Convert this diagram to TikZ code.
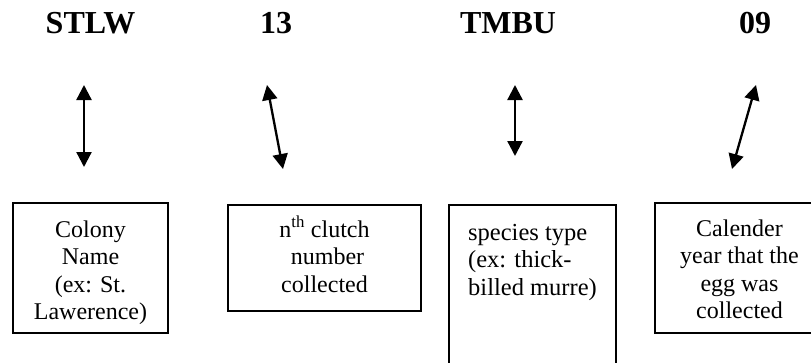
\documentclass[tikz,border=0pt]{standalone}
\usepackage{fontspec}
\setmainfont{Liberation Serif}
\usetikzlibrary{arrows.meta}
\tikzset{
  title/.style={font=\fontsize{32}{36}\selectfont\bfseries, anchor=base, inner sep=0pt},
  box/.style={draw, line width=2pt, inner sep=0pt},
  txt/.style={font=\fontsize{24}{27.5}\selectfont, align=center, inner sep=0pt, anchor=base},
  lefttxt/.style={font=\fontsize{24.5}{27.2}\selectfont, align=left, inner sep=0pt, anchor=base west},
  dbl/.style={line width=2.3pt, {Triangle[width=15pt,length=15pt]}-{Triangle[width=15pt,length=15pt]}}
}
\begin{document}
\begin{tikzpicture}[x=1pt,y=-1pt]
\clip (0,0) rectangle (811,362);
\fill[white] (0,0) rectangle (811,362);
% titles
\node[title] (h1) at (90.5,33) {STLW};
\node[title] (h2) at (276,33) {13};
\node[title] (h3) at (508,33) {TMBU};
\node[title] (h4) at (755,33) {09};
% arrows
\coordinate (a1t) at (84,85);  \coordinate (a1b) at (84,167);
\coordinate (a2t) at (267,85); \coordinate (a2b) at (283,169);
\coordinate (a3t) at (515,85); \coordinate (a3b) at (515,156);
\coordinate (a4t) at (756,85); \coordinate (a4b) at (732,169);
\draw[dbl] (a1t) -- (a1b);
\draw[dbl] (a2t) -- (a2b);
\draw[dbl] (a3t) -- (a3b);
\draw[dbl] (a4t) -- (a4b);
% boxes
\node[box, minimum width=155pt, minimum height=130pt] (b1) at (90.5,268) {};
\node[box, minimum width=193pt, minimum height=106pt] (b2) at (324.5,258) {};
\node[box, anchor=north west, minimum width=167pt, minimum height=180pt] (b3) at (448,204) {};
\node[box, minimum width=170pt, minimum height=130pt] (b4) at (740,268) {};
% box texts (anchor = baseline of last line)
\node[txt] (t1) at (90.5,319.5) {Colony\\Name\\(ex: St.\\Lawerence)};
\node[txt] (t2) at (324.5,292) {n\textsuperscript{th} clutch\\\ number\\collected};
\node[lefttxt] (t3) at (468,295) {species type\\(ex: thick-\\billed murre)};
\node[txt] (t4) at (739.5,318.5) {Calender\\year that the\\egg was\\collected};
\end{tikzpicture}
\end{document}
